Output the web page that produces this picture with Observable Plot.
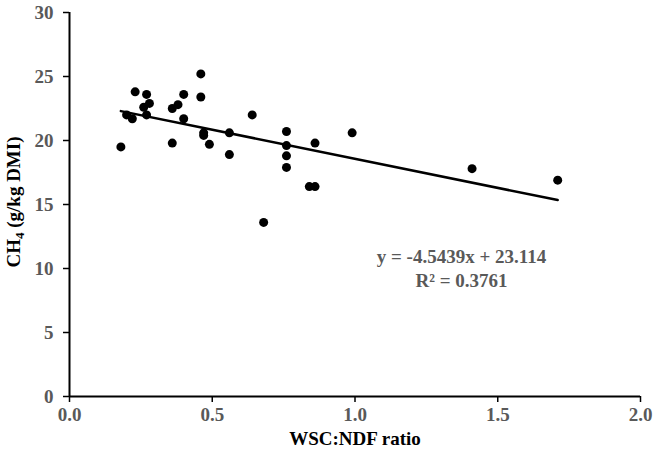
<!DOCTYPE html>
<html>
<head>
<meta charset="utf-8">
<script src="https://cdn.jsdelivr.net/npm/d3@7"></script>
<script src="https://cdn.jsdelivr.net/npm/@observablehq/plot@0.6"></script>
<style>
  body { margin: 0; background: #fff; }
  #chart svg { display: block; }
</style>
</head>
<body>
<div id="chart"></div>
<script>
// Data
const ratio = [0.18, 0.20, 0.22, 0.23, 0.26, 0.27, 0.27, 0.28, 0.36, 0.36, 0.38, 0.40, 0.40, 0.46, 0.46, 0.47, 0.47, 0.49, 0.56, 0.56, 0.64, 0.68, 0.76, 0.76, 0.76, 0.76, 0.84, 0.86, 0.86, 0.99, 1.41, 1.71];
const ch4   = [19.5, 22.0, 21.7, 23.8, 22.6, 22.0, 23.6, 22.9, 19.8, 22.5, 22.8, 23.6, 21.7, 25.2, 23.4, 20.6, 20.4, 19.7, 20.6, 18.9, 22.0, 13.6, 20.7, 19.6, 18.8, 17.9, 16.4, 16.4, 19.8, 20.6, 17.8, 16.9];
const slope = -4.5439;
const intercept = 23.114;
const fitRange = [0.18, 1.71];
const xTicks = [0, 0.5, 1.0, 1.5, 2.0];
const yTicks = [0, 5, 10, 15, 20, 25, 30];
const annotations = [
  {x: 1.373, y: 10.9, text: "y = -4.5439x + 23.114"},
  {x: 1.373, y: 9.05, text: "R² = 0.3761"}
];

const points = ratio.map((r, i) => ({x: r, y: ch4[i]}));
const fit = fitRange.map(x => ({x, y: slope * x + intercept}));

const font = "'Liberation Serif', 'Times New Roman', serif";
const fs = 19;

const plot = Plot.plot({
  width: 661,
  height: 456,
  marginLeft: 69,
  marginRight: 21,
  marginTop: 12,
  marginBottom: 60,
  style: {fontFamily: font, fontWeight: "bold", fontSize: fs + "px", background: "#fff", color: "black"},
  x: {domain: [0, 2]},
  y: {domain: [0, 30]},
  marks: [
    Plot.axisX(xTicks, {tickSize: 6, tickPadding: 5, tickFormat: d3.format(".1f"), color: "#595959", stroke: "black", strokeWidth: 1.5, label: null, fontSize: fs}),
    Plot.axisY(yTicks, {tickSize: 6, tickPadding: 10, color: "#595959", stroke: "black", strokeWidth: 1.5, label: null, fontSize: fs}),
    Plot.ruleY([0], {stroke: "black", strokeWidth: 2}),
    Plot.ruleX([0], {stroke: "black", strokeWidth: 2}),
    Plot.line(fit, {x: "x", y: "y", stroke: "black", strokeWidth: 2.5}),
    Plot.dot(points, {x: "x", y: "y", r: 4.5, fill: "black", stroke: "none"}),
    Plot.text(annotations, {x: "x", y: "y", text: "text", fill: "#595959", fontSize: fs, fontWeight: "bold"}),
    Plot.text(["WSC:NDF ratio"], {frameAnchor: "bottom", dy: 48, fill: "black", fontSize: fs, fontWeight: "bold"})
  ]
});

document.getElementById("chart").append(plot);

// Y-axis title with subscript
const svg = d3.select(plot);
const t = svg.append("text")
  .attr("transform", `translate(16, ${(12 + 396) / 2 - 2}) rotate(-90)`)
  .attr("text-anchor", "middle")
  .attr("dominant-baseline", "middle")
  .attr("font-family", font)
  .attr("font-weight", "bold")
  .attr("font-size", fs)
  .attr("fill", "black");
t.append("tspan").text("CH");
t.append("tspan").text("4").attr("font-size", 13).attr("dy", 5);
t.append("tspan").text(" (g/kg DMI)").attr("dy", -5);
</script>
</body>
</html>
